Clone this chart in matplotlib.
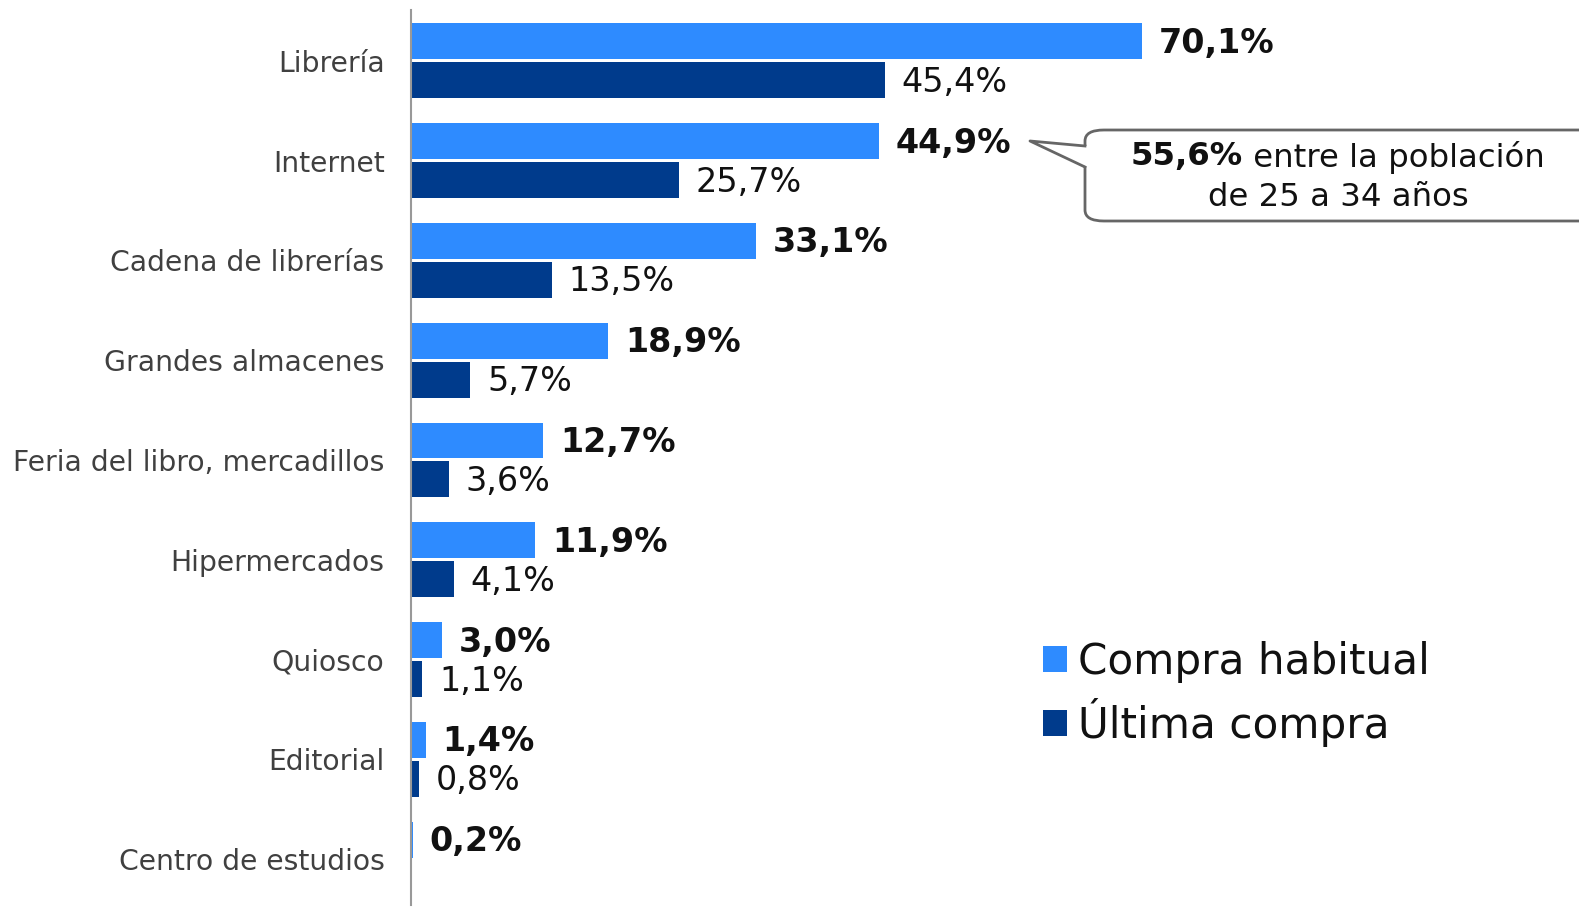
import matplotlib.pyplot as plt
from matplotlib.patches import FancyBboxPatch, Polygon
from matplotlib.lines import Line2D
import numpy as np

# datos
categorias = ["Librería", "Internet", "Cadena de librerías", "Grandes almacenes",
              "Feria del libro, mercadillos", "Hipermercados", "Quiosco",
              "Editorial", "Centro de estudios"]
habitual = [70.1, 44.9, 33.1, 18.9, 12.7, 11.9, 3.0, 1.4, 0.2]
ultima = [45.4, 25.7, 13.5, 5.7, 3.6, 4.1, 1.1, 0.8, None]
series = ["Compra habitual", "Última compra"]
nota_bold = "55,6%"
nota_resto = " entre la población"
nota_linea2 = "de 25 a 34 años"

COLOR_HAB = "#2e8bff"
COLOR_ULT = "#003b8c"

W, H = 1579, 911
fig = plt.figure(figsize=(W / 100, H / 100), dpi=100)
ax = fig.add_axes([411 / W, 6 / H, (W - 411) / W, (905 - 10) / H])

def fmt(v):
    return ("%.1f%%" % v).replace(".", ",")

y = np.arange(len(categorias))
alto = 0.36
desp = 0.195
ult_vals = [v if v is not None else 0 for v in ultima]
b1 = ax.barh(y - desp, habitual, height=alto, color=COLOR_HAB, label=series[0])
b2 = ax.barh(y + desp, ult_vals, height=alto, color=COLOR_ULT, label=series[1])

for i, v in enumerate(habitual):
    ax.text(v + 1.6, i - desp + 0.02, fmt(v), va="center", ha="left",
            fontsize=24, fontweight="bold", color="#111111")
for i, v in enumerate(ultima):
    if v is None:
        continue
    ax.text(v + 1.6, i + desp + 0.02, fmt(v), va="center", ha="left",
            fontsize=24, color="#111111")

ax.set_xlim(0, (W - 411) / 10.43)
ax.set_ylim(8.46, -0.51)
ax.set_yticks(y)
ax.set_yticklabels(categorias, fontsize=20.3, color="#404040")
ax.tick_params(axis="y", length=0, pad=19)
ax.set_xticks([])
for s in ["top", "right", "bottom"]:
    ax.spines[s].set_visible(False)
ax.spines["left"].set_color("#999999")
ax.spines["left"].set_linewidth(1.5)

leg = fig.legend(handles=[b1, b2], labels=series, loc="upper left",
                 bbox_to_anchor=(1026 / W, 1 - 624 / H), frameon=False,
                 fontsize=30.3, handlelength=0.57, handleheight=0.57,
                 handletextpad=0.27, labelspacing=0.36, borderaxespad=0)
for t in leg.get_texts():
    t.set_color("#111111")

# globo de la nota
def fx(px):
    return px / W

def fy(py):
    return 1 - py / H

caja = FancyBboxPatch((fx(1085), fy(221)), fx(1700) - fx(1085), fy(130) - fy(221),
                      boxstyle="round,pad=0,rounding_size=0.012",
                      transform=fig.transFigure, facecolor="white",
                      edgecolor="#666666", linewidth=2, zorder=5)
fig.patches.append(caja)
pico = Polygon([(fx(1087), fy(146)), (fx(1030), fy(141)), (fx(1087), fy(167))],
               closed=True, transform=fig.transFigure, facecolor="white",
               edgecolor="none", zorder=6)
fig.patches.append(pico)
fig.lines.append(Line2D([fx(1085), fx(1030), fx(1085)], [fy(146), fy(141), fy(167)],
                        transform=fig.transFigure, color="#666666", linewidth=2, zorder=7))

t1 = fig.text(fx(1131), fy(157), nota_bold, fontsize=23.3, fontweight="bold",
              va="center", ha="left", color="#111111", zorder=8)
fig.canvas.draw()
bb = t1.get_window_extent()
fig.text(bb.x1 / W, fy(157), nota_resto, fontsize=23.3, va="center", ha="left",
         color="#111111", zorder=8)
fig.text(fx(1338), fy(198), nota_linea2, fontsize=23.3, va="center", ha="center",
         color="#111111", zorder=8)

fig.savefig("out.png", dpi=100)
